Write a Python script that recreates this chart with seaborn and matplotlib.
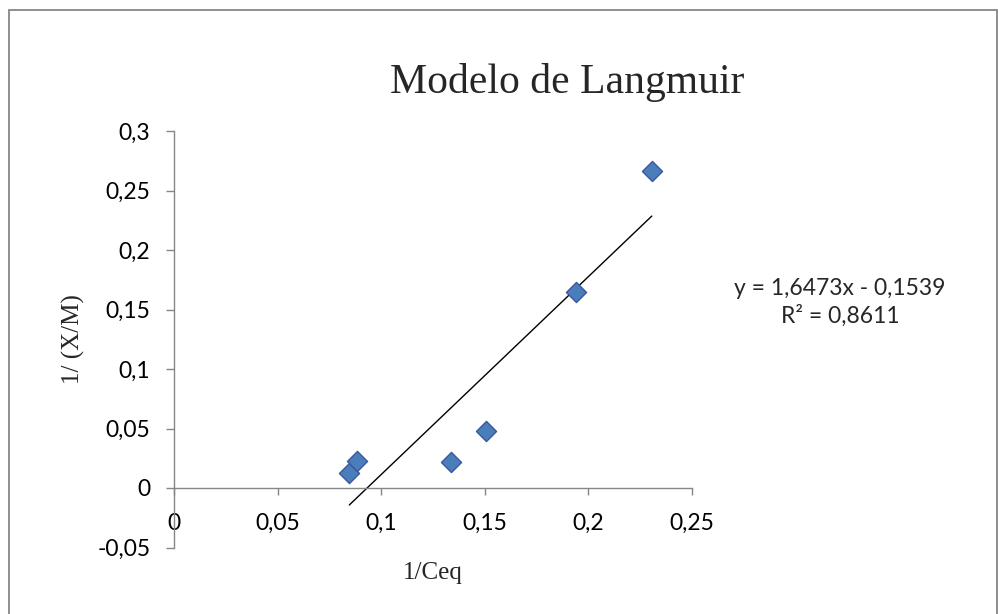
import numpy as np
import pandas as pd
import matplotlib
matplotlib.use("Agg")
import matplotlib.pyplot as plt
from matplotlib.ticker import FuncFormatter, MultipleLocator
from matplotlib.patches import Rectangle
import seaborn as sns

# Data
inv_ceq = [0.0846, 0.0882, 0.1337, 0.1506, 0.1939, 0.2306]
inv_xm = [0.0124, 0.0227, 0.0216, 0.0482, 0.1650, 0.2664]
title = "Modelo de Langmuir"
xlabel = "1/Ceq"
ylabel = "1/ (X/M)"
equation = "y = 1,6473x - 0,1539\nR² = 0,8611"

df = pd.DataFrame({"x": inv_ceq, "y": inv_xm})

sns.set_style("white")
plt.rcParams["font.family"] = ["Lato", "DejaVu Sans"]

W, H = 998, 614
fig = plt.figure(figsize=(W / 100, H / 100), dpi=100)
fig.patch.set_facecolor("white")

# axes: x=0 at px 174, x=0.25 at px 692; y=0.3 at px 131, y=-0.05 at px 547.5
ax = fig.add_axes([174 / W, 1 - 547.5 / H, (692 - 174) / W, (547.5 - 131) / H])
ax.set_facecolor("none")

sns.regplot(data=df, x="x", y="y", scatter=False, ci=None, truncate=True,
            color="black", line_kws={"lw": 1.0}, ax=ax)
sns.scatterplot(data=df, x="x", y="y", marker="D", s=105,
                color="#4A7EBB", edgecolor="#3C56A0", linewidth=1.0, ax=ax, zorder=5)

ax.set_xlim(0, 0.25)
ax.set_ylim(-0.05, 0.3)

axis_col = "#868686"
for s in ["top", "right"]:
    ax.spines[s].set_visible(False)
ax.spines["left"].set_color(axis_col)
ax.spines["bottom"].set_color(axis_col)
ax.spines["bottom"].set_position(("data", 0))
ax.spines["left"].set_linewidth(1.0)
ax.spines["bottom"].set_linewidth(1.0)

ax.xaxis.set_major_locator(MultipleLocator(0.05))
ax.yaxis.set_major_locator(MultipleLocator(0.05))

def fmt(v, pos):
    v = round(v, 4)
    if abs(v) < 1e-9:
        return "0"
    return ("%g" % v).replace(".", ",")

ax.xaxis.set_major_formatter(FuncFormatter(fmt))
ax.yaxis.set_major_formatter(FuncFormatter(fmt))

ax.tick_params(axis="x", direction="out", length=5, width=1, color=axis_col,
               pad=13, labelsize=16.5, labelcolor="black", bottom=True)
ax.tick_params(axis="y", direction="out", length=6, width=1, color=axis_col,
               pad=11, labelsize=16.5, labelcolor="black", left=True)

ax.set_xlabel(xlabel, family="Liberation Serif", fontsize=18)
ax.xaxis.set_label_coords(0.5, (547.5 - 573) / 416.5)
ax.xaxis.label.set_va("center")
ax.set_ylabel(ylabel, family="Liberation Serif", fontsize=18)
ax.yaxis.set_label_coords((73 - 174) / 518, 0.5)
ax.yaxis.label.set_va("center")

fig.text(567 / W, 1 - 83 / H, title, family="Liberation Serif", fontsize=30,
         ha="center", va="center")

ax.text((840 - 174) / 518, (547.5 - 302.5) / 416.5, equation, transform=ax.transAxes,
        ha="center", va="center", multialignment="center", fontsize=16.5,
        linespacing=1.3, clip_on=False)

# outer chart-area border
fig.patches.append(Rectangle((8.5 / W, -0.2), (997 - 8.5) / W, 1.2 - 10.5 / H,
                             transform=fig.transFigure, fill=False,
                             edgecolor="#868686", linewidth=1.3, zorder=0))

fig.savefig("out.png", dpi=100, facecolor="white")
